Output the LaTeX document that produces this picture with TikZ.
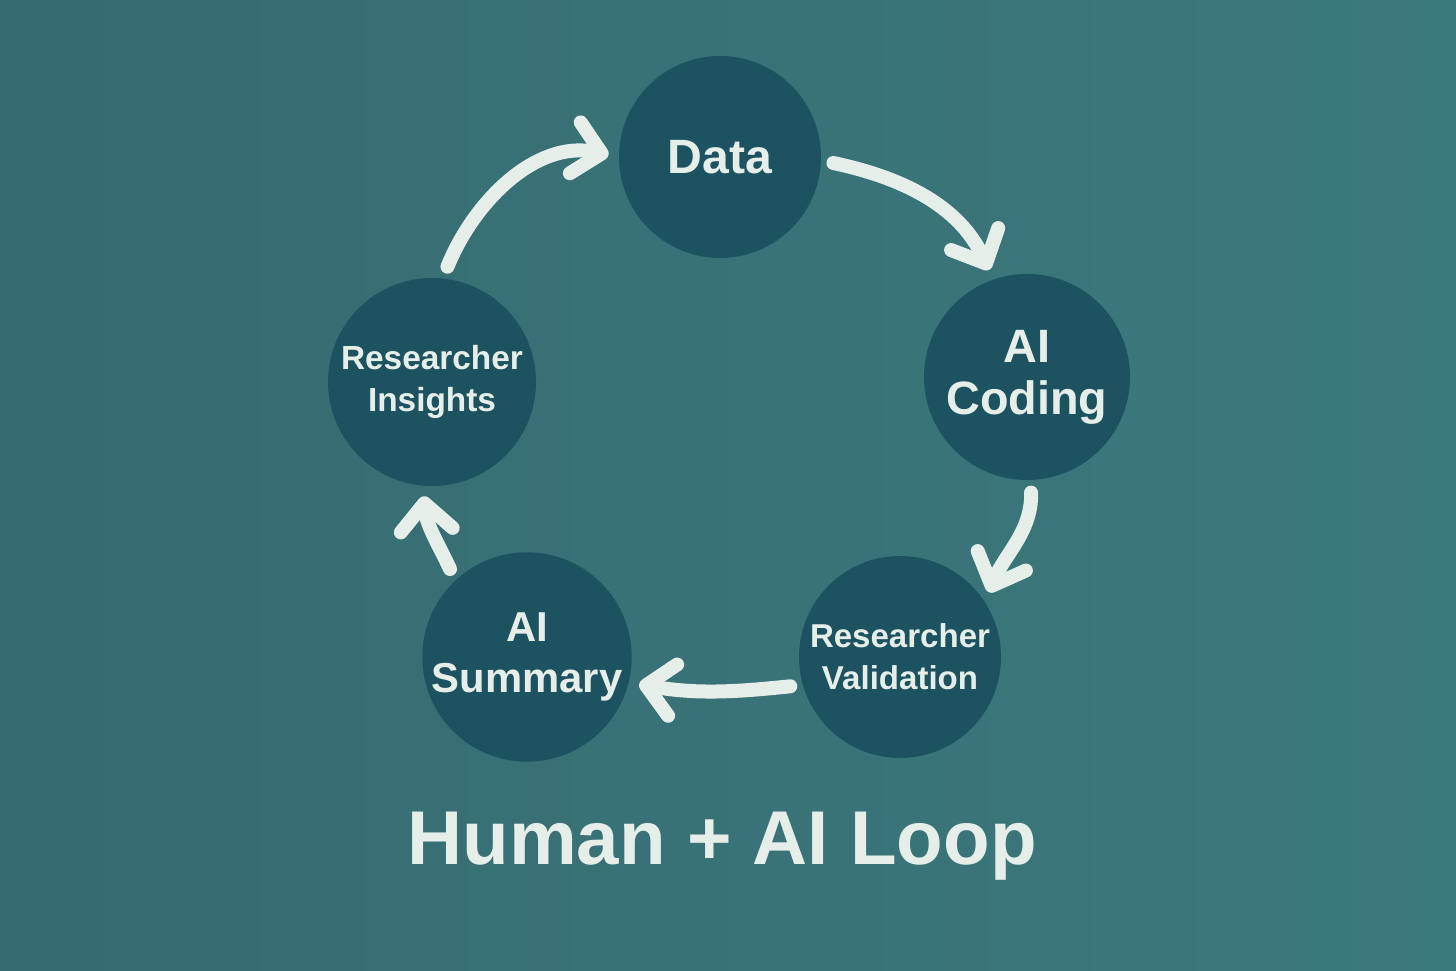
\documentclass[tikz,border=0pt]{standalone}
\usepackage{fontspec}
\setmainfont{Liberation Sans}
\usetikzlibrary{arrows.meta}
\definecolor{bgl}{HTML}{356B71}
\definecolor{bgr}{HTML}{3C797E}
\definecolor{disc}{HTML}{1D5260}
\definecolor{ink}{HTML}{E6EEE9}
\begin{document}
\begin{tikzpicture}[
	step node/.style={circle, fill=disc, minimum size=#1, inner sep=0pt, text=ink, align=center},
	flow/.style={draw=ink, line width=0.14cm, line cap=round, -{Straight Barb[round,length=0.27cm,width=0.52cm]}, shorten <=0.12cm, shorten >=0.1cm}]
\useasboundingbox (0,0) rectangle (14.56,9.71);
\shade[left color=bgl, right color=bgr] (0,0) rectangle (14.56,9.71);
% the five steps of the loop
\node[step node=2.02cm, font=\bfseries\fontsize{13.7}{15}\selectfont] (data) at (7.20,8.14) {Data};
\node[step node=2.06cm, font=\bfseries\fontsize{13.3}{14.8}\selectfont] (coding) at (10.27,5.94) {AI\\Coding};
\node[step node=2.02cm, font=\bfseries\fontsize{9.4}{12}\selectfont] (valid) at (9.00,3.14) {Researcher\\Validation};
\node[step node=2.04cm, font=\bfseries\fontsize{11.9}{14.5}\selectfont] (summ) at (5.27,3.14) {AI\\Summary};
\node[step node=2.08cm, font=\bfseries\fontsize{9.5}{12}\selectfont] (insight) at (4.32,5.89) {Researcher\\Insights};
% arrows between the steps
\foreach \a/\sa/\o/\b/\eb/\i in {insight/84/68/data/180/168, data/-2/-12/coding/109/115, coding/-88/-88/valid/33/68, valid/196/186/summ/-14/-10, summ/133/115/insight/-95/-85}
	\draw[flow] (\a.\sa) to[out=\o,in=\i] (\b.\eb);
\node[text=ink, font=\bfseries\fontsize{21.7}{24}\selectfont, anchor=base] (title) at (7.22,1.06) {Human + AI Loop};
\end{tikzpicture}
\end{document}
